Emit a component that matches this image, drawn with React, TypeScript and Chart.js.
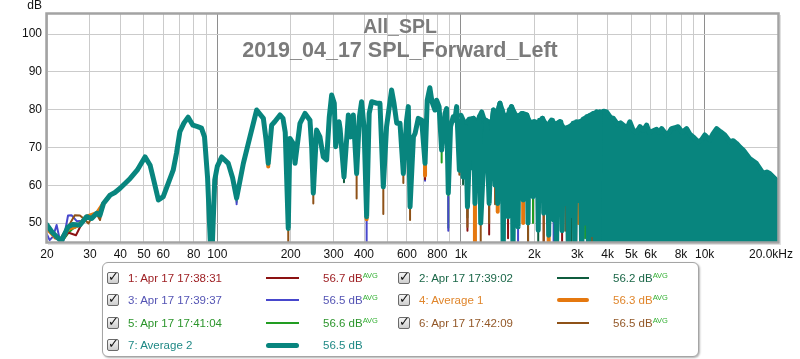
import React, { useEffect, useRef } from 'react';
import { Chart, registerables } from 'chart.js';

Chart.register(...registerables);

type P = [number, number];
type Tip = [number, number, number];

// ---------------- data ----------------
const titleLines = ['All_SPL', '2019_04_17 SPL_Forward_Left'];
const yUnit = 'dB';
const xTickValues = [20, 30, 40, 50, 60, 70, 80, 90, 100, 200, 300, 400, 500, 600, 700, 800, 900, 1000, 2000, 3000, 4000, 5000, 6000, 7000, 8000, 9000, 10000, 20000];
const xTickLabels = ['20', '30', '40', '50', '60', '', '80', '', '100', '200', '300', '400', '', '600', '', '800', '', '1k', '2k', '3k', '4k', '5k', '6k', '', '8k', '', '10k', '20.0kHz'];
const yTickValues = [50, 60, 70, 80, 90, 100];

// 7: Average 2 (teal) – traced curve and dense comb up to ~3.7 kHz
const avg2Main: P[] = [
  [20, 49.5], [21, 47.6], [22.9, 45.2], [24.4, 49], [25.5, 49.6], [27.3, 49.5], [29.1, 51.7], [30.5, 51.2], [32, 52.6], [33, 52.1],
  [34.1, 55.2], [36.3, 57.4], [38, 58.1], [39.9, 59.2], [43.9, 61.8], [46.9, 64], [50.5, 67.5], [53, 65.3], [55, 61], [57.3, 56.1],
  [60, 57], [65.9, 64], [68, 68.5], [70.2, 74.2], [73, 76.5], [75.9, 78], [79.4, 75.9], [83, 75.5], [86.1, 75.1], [88.6, 72.8],
  [91.2, 62], [94.6, 38], [97.6, 61.4], [100, 65], [104.2, 67.5], [110.9, 65.8], [115.5, 62], [120, 56.6], [127.9, 65.8], [136.1, 72.8],
  [145, 79.9], [154.5, 77.7], [158.5, 72], [161.8, 65.8], [167.1, 75.9], [172, 76.8], [180.8, 78.6], [186, 77.7], [190, 74], [195.5, 48.6],
  [198.6, 72.4], [205, 71], [208.4, 65.8], [218.4, 76.4], [229.1, 79], [240, 77.2], [244, 70], [247.7, 57.9], [255.5, 74.6], [263.7, 72.8],
  [272.2, 67.5], [281, 66.7], [288, 78], [294.6, 83.9], [302, 81.7], [306, 70.2], [316, 76.8], [319, 75], [331, 62.2], [345, 78.6],
  [353, 72.8], [361.5, 78.6], [373, 63.1], [383, 78.1], [391, 82.1], [400, 75.5], [410, 51.7], [420, 79], [430, 82.1], [451, 81.7],
  [465, 81.7], [480, 59.6], [495, 75.5], [519, 85.2], [531, 81.7], [545, 76.4], [562, 76.4], [580, 63.1], [598, 77.2], [608, 80.8],
  [618, 54.3], [638, 72.8], [648, 73.7], [668, 77.7], [690, 77.2], [712, 65.8], [727, 82.5], [745, 85.8], [760, 82.1], [782, 79.9],
  [794, 82.5], [813, 80.8], [833, 69.3], [860, 79], [873, 80.3], [887, 57.9], [906, 75.5], [929, 78.1], [943, 77.2], [960, 80.8],
  [985, 64], [1007, 77.2], [1020, 62.2], [1045, 75.5], [1063, 54.3], [1095, 77.2], [1125, 77.7], [1141, 55.2], [1170, 75.5], [1190, 78.1],
  [1205, 50], [1238, 66], [1270, 77.2], [1305, 55.2], [1340, 76.4], [1360, 79.9],
  [1380, 60], [1400, 78], [1415, 55.2], [1430, 80.5], [1445, 81.7], [1460, 65.8], [1475, 80], [1490, 40], [1505, 78], [1520, 66],
  [1540, 77.7], [1560, 51.7], [1580, 80], [1600, 62], [1615, 80.8], [1635, 42], [1655, 79], [1675, 63], [1695, 78.1], [1715, 49],
  [1735, 78.5], [1755, 60.5], [1775, 79], [1800, 56.1], [1820, 78], [1845, 64], [1865, 78.6], [1885, 50], [1905, 77], [1930, 62],
  [1950, 75.9], [1975, 57], [2000, 76.8], [2025, 66], [2050, 76], [2075, 48.1], [2100, 77.2], [2125, 62], [2160, 77.7], [2185, 52.6],
  [2210, 76.5], [2240, 64], [2265, 75.5], [2290, 46.8], [2320, 76.5], [2350, 60], [2375, 77.2], [2400, 50.8], [2430, 76], [2465, 40],
  [2500, 76.5], [2535, 58], [2570, 76.8], [2600, 48], [2640, 74.2], [2680, 55.2], [2720, 75], [2760, 40], [2800, 75.5], [2840, 52],
  [2890, 76.4], [2930, 44], [2980, 76.8], [3030, 56], [3080, 76.8], [3130, 40], [3180, 77.5], [3230, 50], [3290, 78.1], [3340, 40],
  [3400, 78.5], [3450, 47], [3500, 79], [3560, 40], [3620, 79.4], [3680, 40], [3720, 79.4],
];

// 7: Average 2 – top of the dense comb between 1 and 3.7 kHz (solid down to ~64 dB)
const avg2Body: P[] = [
  [1000, 78.5], [1040, 76], [1080, 77.5], [1125, 77.7], [1160, 76], [1190, 78.1], [1216, 79.4], [1250, 77], [1300, 76.8], [1340, 76.4],
  [1360, 79.9], [1400, 78], [1445, 81.7], [1490, 79], [1520, 78], [1560, 78.6], [1610, 80.8], [1660, 79], [1700, 78.1], [1790, 79],
  [1860, 78.6], [1920, 76.5], [2000, 76.8], [2080, 76.5], [2160, 77.7], [2250, 75.5], [2350, 77.2], [2450, 76], [2540, 76.8], [2650, 75],
  [2800, 75.5], [2900, 76.4], [3090, 76.8], [3290, 78.1], [3500, 79], [3720, 79.4],
];

// 7: Average 2 upper envelope above ~3.6 kHz (comb is solid to the floor)
const avg2Upper: P[] = [
  [3600, 79.4], [3720, 79], [3850, 79.6], [3960, 79.4], [4100, 78], [4220, 77.7], [4400, 76], [4520, 76.5], [4640, 75.9], [4800, 75],
  [4930, 76.8], [5090, 74.6], [5250, 74], [5430, 75.5], [5600, 74.5], [5780, 75.9], [5920, 74], [6060, 74.2], [6350, 74.8], [6500, 74],
  [6660, 75], [6980, 73.3], [7150, 74], [7310, 75], [7550, 75.2], [7780, 75.5], [8100, 74], [8430, 75], [8700, 73.5], [8970, 72.8],
  [9400, 71.5], [9700, 72], [10020, 73.3], [10500, 72], [10800, 73.5], [11200, 75], [11600, 74.2], [12100, 73.3], [12700, 71.5], [13100, 71.8],
  [13500, 71.1], [14000, 70], [14400, 69.3], [15300, 67.1], [16300, 65.8], [17400, 63.1], [18000, 63.5], [18500, 63.1], [19400, 61.8], [20000, 60.9],
];
const avg2BodyFloor = 64;

// individual measurements: low-frequency part and deeper dip tips [freq, from dB, to dB]
const s1Low: P[] = [[20, 48.6], [21.5, 46.2], [23, 45.3], [24.4, 47.5], [26.3, 46.8], [27.5, 49.3], [29.1, 51.5], [30.5, 51.1], [32, 52.4], [33, 51.9], [34.1, 55], [36.3, 57.3]];
const s1Tips: Tip[] = [[712, 65, 61.6], [1063, 54, 48], [1305, 55, 47], [1560, 51.5, 46], [2185, 52.5, 45], [2600, 48, 43]];
const s2Low: P[] = [[20, 49.8], [22.5, 45.5], [24.4, 49.2], [27.3, 49.7], [29.1, 51.6], [30.5, 51.3], [32, 52.5], [34.1, 55.3], [36.3, 57.4]];
const s2Tips: Tip[] = [[331, 62, 60.8], [1020, 62, 60.3], [1885, 50, 44], [2075, 48, 43], [2840, 52, 45]];
const s3Low: P[] = [[20, 47], [20.5, 45.5], [21.2, 46.5], [21.9, 49.5], [22.5, 46], [23.2, 44.5], [24.4, 52], [25.2, 52.1], [26.5, 50.5], [28, 50.6], [29.1, 51.5], [30.5, 51], [32, 52.5], [34.1, 55], [36.3, 57.3]];
const s3Tips: Tip[] = [[120, 56.5, 55], [410, 51.5, 38], [712, 65, 61.2], [887, 57, 48], [1715, 49, 44], [2400, 50.5, 45], [2930, 44, 40]];
const s4Low: P[] = [[20, 48.5], [21.5, 46.5], [23, 45.5], [24.4, 48.5], [26, 49], [27.3, 49.8], [29.1, 51.7], [32, 52.6], [34.1, 55.2], [36.3, 57.4]];
const s4Tips: Tip[] = [[161.8, 65.8, 65], [410, 51.7, 51], [712, 65.5, 62.6], [1141, 55, 38], [1415, 55, 53], [1800, 56, 50], [2290, 46.8, 40], [3030, 56, 50]];
const s5Low: P[] = [[20, 49], [21.5, 46.5], [23, 45], [24.4, 47.3], [25.5, 48.5], [27.3, 49.4], [29.1, 51.5], [32, 52.4], [34.1, 55], [36.3, 57.3]];
const s5Tips: Tip[] = [[120, 56.5, 55.6], [833, 69, 66], [887, 57.5, 48.8], [1063, 54, 51.5], [1560, 51.5, 48.5], [1975, 57, 50], [2535, 58, 52], [3230, 50, 46]];
const s6Low: P[] = [[20, 48.8], [21.5, 46], [23, 45.5], [24.4, 49], [26, 52.1], [27.3, 52], [28.5, 51], [29.6, 49.9], [30.5, 51.5], [32, 52.4], [33, 50.8], [34.1, 55], [36.3, 57.3]];
const s6Tips: Tip[] = [[195.5, 48.6, 38], [247.7, 57.9, 55.2], [373, 63, 56.5], [480, 59.5, 52.4], [580, 63, 60.6], [618, 54.3, 50.8], [985, 64, 62.8], [1063, 54, 49], [1205, 50, 38], [1305, 55, 50], [1380, 60, 55], [1885, 50, 40], [2185, 52.5, 43], [2680, 55, 48], [3450, 47, 40]];

const seriesLabels = ['1: Apr 17 17:38:31', '2: Apr 17 17:39:02', '3: Apr 17 17:39:37', '4: Average 1', '5: Apr 17 17:41:04', '6: Apr 17 17:42:09', '7: Average 2'];
const seriesValues = ['56.7 dB', '56.2 dB', '56.5 dB', '56.3 dB', '56.6 dB', '56.5 dB', '56.5 dB'];
const seriesAvg = [true, true, true, true, true, true, false];

// ---------------- styles ----------------
const lineColors = ['#8c1212', '#0f5c3e', '#4747cc', '#e5780f', '#229d22', '#8f5218', '#08857e'];
const textColors = ['#9e2024', '#1b6748', '#5454b4', '#e0862c', '#2c952c', '#935828', '#1f8985'];
const lineWidths = [2, 2, 2, 4, 2, 2, 5];
const FONT = '"Liberation Sans", Arial, sans-serif';

function buildSeries(low: P[], tips: Tip[]) {
  const pts: { x: number; y: number | null }[] = low.map(([x, y]) => ({ x, y }));
  tips.forEach(([f, a, b]) => {
    pts.push({ x: f, y: null });
    pts.push({ x: f, y: a });
    pts.push({ x: f, y: b });
  });
  return pts;
}

const overlayPlugin = {
  id: 'overlay',
  beforeDatasetsDraw(chart: any) {
    const ctx = chart.ctx;
    ctx.save();
    ctx.fillStyle = '#7b7b7b';
    ctx.textAlign = 'center';
    ctx.textBaseline = 'alphabetic';
    ctx.font = `bold 19.5px ${FONT}`;
    ctx.fillText(titleLines[0], 400, 33);
    ctx.font = `bold 21.5px ${FONT}`;
    ctx.fillText(titleLines[1], 400, 57);
    ctx.restore();
  },
  afterDatasetsDraw(chart: any) {
    const ctx = chart.ctx;
    const a = chart.chartArea;
    ctx.save();
    // frame
    ctx.strokeStyle = '#a3a3a3';
    ctx.lineWidth = 2.5;
    ctx.strokeRect(a.left - 0.5, a.top - 0.5, a.right - a.left + 1, a.bottom - a.top + 1);
    ctx.strokeStyle = 'rgba(0,0,0,0.12)';
    ctx.lineWidth = 1;
    ctx.beginPath();
    ctx.moveTo(a.left + 1, a.bottom + 2.5);
    ctx.lineTo(a.right + 2.5, a.bottom + 2.5);
    ctx.lineTo(a.right + 2.5, a.top + 1);
    ctx.stroke();
    // axis unit
    ctx.fillStyle = '#111';
    ctx.font = `12px ${FONT}`;
    ctx.textAlign = 'right';
    ctx.textBaseline = 'alphabetic';
    ctx.fillText(yUnit, 42, 9);
    // x tick labels, placed through the x scale
    const xs = chart.scales.x;
    ctx.textAlign = 'center';
    ctx.textBaseline = 'middle';
    xTickValues.forEach((v, i) => {
      const t = xTickLabels[i];
      if (!t) return;
      const w = ctx.measureText(t).width;
      let px = xs.getPixelForValue(v);
      px = Math.min(px, chart.width - 7 - w / 2);
      ctx.fillText(t, px, a.bottom + 12.5);
    });
    ctx.restore();
  },
};

function Legend() {
  const rows = [14.5, 37, 59.5, 82];
  const cols = [
    { box: 4, label: 25, line: 163, lineW: 33, value: 220 },
    { box: 295, label: 316, line: 454, lineW: 32, value: 510 },
  ];
  return (
    <div
      style={{
        position: 'absolute', left: 102, top: 262, width: 595, height: 93,
        border: '1px solid #a5a5a5', borderRadius: 6, background: '#fff',
        boxShadow: '1px 1px 2px rgba(0,0,0,0.3)', fontFamily: FONT, fontSize: 11.5,
      }}
    >
      {seriesLabels.map((lab, i) => {
        const r = rows[Math.floor(i / 2)];
        const c = cols[i % 2];
        return (
          <React.Fragment key={i}>
            <div style={{
              position: 'absolute', left: c.box, top: r - 6, width: 10, height: 10,
              border: '1px solid #6a6a6a', borderRadius: 2,
              background: 'linear-gradient(#f6f6f6, #cdcdcd)',
            }}>
              <span style={{
                position: 'absolute', left: 0, top: -4, fontSize: 13, fontWeight: 'bold',
                fontFamily: '"DejaVu Sans", sans-serif', color: '#111', lineHeight: '16px',
              }}>✓</span>
            </div>
            <div style={{ position: 'absolute', left: c.label, top: r - 7, lineHeight: '14px', color: textColors[i], whiteSpace: 'nowrap' }}>{lab}</div>
            <div style={{
              position: 'absolute', left: c.line, top: r - lineWidths[i] / 2, width: c.lineW, height: lineWidths[i],
              background: lineColors[i], borderRadius: lineWidths[i] > 2 ? lineWidths[i] / 2 : 0,
            }} />
            <div style={{ position: 'absolute', left: c.value, top: r - 7, lineHeight: '14px', color: textColors[i], whiteSpace: 'nowrap' }}>
              {seriesValues[i]}
              {seriesAvg[i] ? (
                <span style={{ fontSize: 7.5, color: '#33b033', position: 'relative', top: -4 }}>AVG</span>
              ) : null}
            </div>
          </React.Fragment>
        );
      })}
    </div>
  );
}

export default function App() {
  const canvasRef = useRef<HTMLCanvasElement>(null);

  useEffect(() => {
    document.body.style.margin = '0';
    const canvas = canvasRef.current;
    if (!canvas) return;
    const common = {
      pointRadius: 0,
      tension: 0,
      spanGaps: false,
      fill: false,
      borderJoinStyle: 'round' as const,
      borderCapStyle: 'round' as const,
      clip: 0,
    };
    const lows = [s1Low, s2Low, s3Low, s4Low, s5Low, s6Low];
    const tips = [s1Tips, s2Tips, s3Tips, s4Tips, s5Tips, s6Tips];
    const datasets: any[] = [
      {
        ...common,
        label: seriesLabels[6],
        data: avg2Main.map(([x, y]) => ({ x, y })),
        borderColor: lineColors[6],
        borderWidth: lineWidths[6],
        order: 0,
      },
      {
        ...common,
        label: seriesLabels[6] + ' (body)',
        data: avg2Body.map(([x, y]) => ({ x, y })),
        borderColor: lineColors[6],
        backgroundColor: lineColors[6],
        borderWidth: lineWidths[6],
        fill: { value: avg2BodyFloor },
        order: 0,
      },
      {
        ...common,
        label: seriesLabels[6] + ' (upper)',
        data: avg2Upper.map(([x, y]) => ({ x, y })),
        borderColor: lineColors[6],
        backgroundColor: lineColors[6],
        borderWidth: lineWidths[6],
        fill: 'start',
        order: 0,
      },
    ];
    [3, 5, 0, 1, 2, 4].forEach((k, j) => {
      datasets.push({
        ...common,
        label: seriesLabels[k],
        data: buildSeries(lows[k], tips[k]),
        borderColor: lineColors[k],
        borderWidth: lineWidths[k],
        order: 1 + j,
      });
    });

    const chart = new Chart(canvas, {
      type: 'line',
      data: { datasets },
      options: {
        animation: false,
        responsive: false,
        maintainAspectRatio: false,
        devicePixelRatio: 1,
        events: [],
        layout: { padding: { top: 14, right: 22, left: 0, bottom: 0 } },
        plugins: { legend: { display: false }, tooltip: { enabled: false }, title: { display: false } },
        scales: {
          x: {
            type: 'logarithmic',
            min: 20,
            max: 20000,
            afterBuildTicks: (s: any) => { s.ticks = xTickValues.map((v) => ({ value: v })); },
            afterFit: (s: any) => { s.height = 117; },
            ticks: { display: false, autoSkip: false },
            border: { display: false },
            grid: {
              drawTicks: false,
              lineWidth: 1,
              color: (c: any) => {
                const v = c.tick ? c.tick.value : 0;
                return v === 100 || v === 1000 || v === 10000 ? '#8e8e8e' : '#cbcbcb';
              },
            },
          },
          y: {
            type: 'linear',
            min: 45,
            max: 105.3,
            afterBuildTicks: (s: any) => { s.ticks = yTickValues.map((v) => ({ value: v })); },
            afterFit: (s: any) => { s.width = 47; },
            ticks: { padding: 5, color: '#111', font: { size: 12, family: FONT } },
            border: { display: false },
            grid: { drawTicks: false, color: '#cbcbcb', lineWidth: 1 },
          },
        },
      },
      plugins: [overlayPlugin],
    });
    return () => chart.destroy();
  }, []);

  return (
    <div style={{ position: 'relative', width: 800, height: 359, background: '#fff', overflow: 'hidden' }}>
      <style>{'body{margin:0}'}</style>
      <canvas ref={canvasRef} width={800} height={359} style={{ position: 'absolute', left: 0, top: 0, width: 800, height: 359 }} />
      <Legend />
    </div>
  );
}
